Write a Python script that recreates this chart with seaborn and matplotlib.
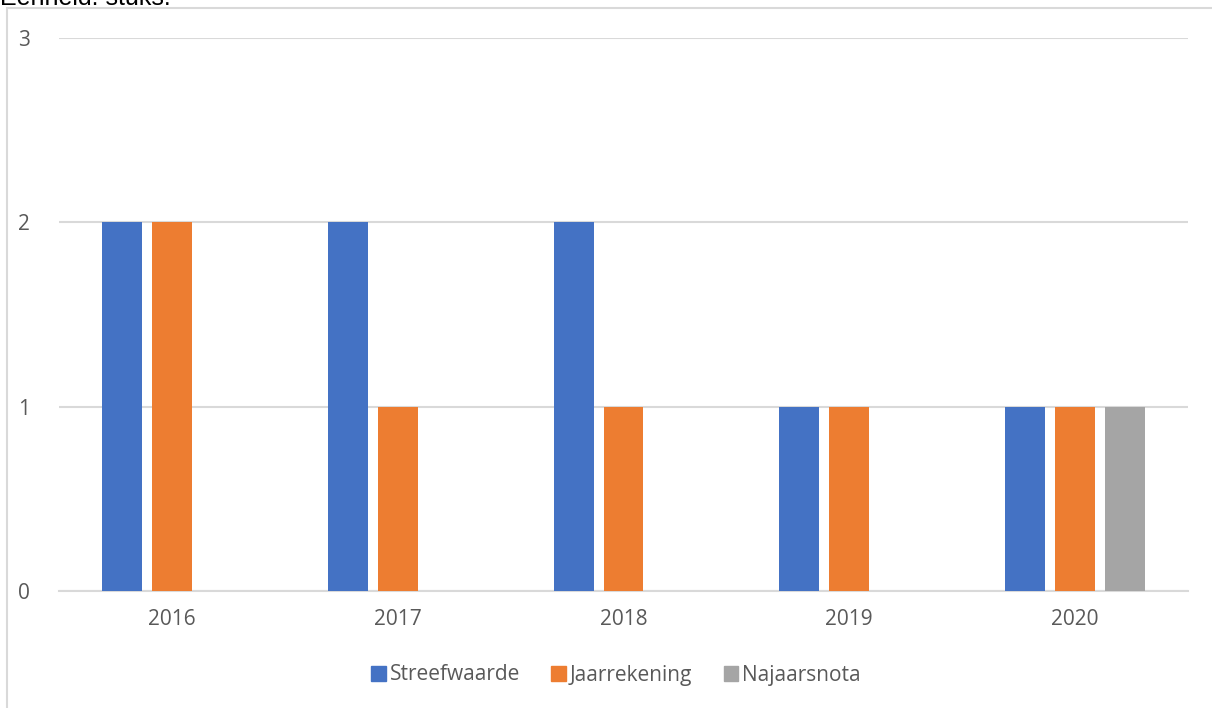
import pandas as pd
import matplotlib.pyplot as plt
import matplotlib.patches as mpatches
import seaborn as sns

sns.set_theme(style="white")
plt.rcParams['font.family'] = ['Open Sans', 'DejaVu Sans']

# Chart data
years = ['2016', '2017', '2018', '2019', '2020']
streefwaarde = [2, 2, 2, 1, 1]
jaarrekening = [2, 1, 1, 1, 1]
najaarsnota = [0, 0, 0, 0, 1]
series = ['Streefwaarde', 'Jaarrekening', 'Najaarsnota']
colors = ['#4472c4', '#ed7d31', '#a5a5a5']

df = pd.DataFrame({
    'jaar': years * 3,
    'reeks': [s for s in series for _ in years],
    'waarde': streefwaarde + jaarrekening + najaarsnota,
})

fig = plt.figure(figsize=(12.12, 7.08), dpi=100)
ax = fig.add_axes([59 / 1212, 1 - 591 / 708, (1188 - 59) / 1212, (591 - 38) / 708])

sns.barplot(data=df, x='jaar', y='waarde', hue='reeks', hue_order=series,
            palette=colors, width=0.664, gap=0.2, saturation=1, ax=ax,
            legend=False, zorder=3, linewidth=0)

ax.set_ylim(0, 3)
ax.set_yticks([0, 1, 2, 3])
ax.set_xlim(-0.5, 4.5)
ax.grid(axis='y', color='#d9d9d9', linewidth=1.5, zorder=0)
for side in ['top', 'right', 'left']:
    ax.spines[side].set_visible(False)
ax.spines['bottom'].set_color('#d9d9d9')
ax.spines['bottom'].set_linewidth(1.5)
ax.set_xlabel('')
ax.set_ylabel('')
ax.tick_params(axis='both', length=0, labelsize=15, labelcolor='#595959')
ax.tick_params(axis='x', pad=13)
ax.tick_params(axis='y', pad=21)

handles = [mpatches.Patch(color=c, label=s) for c, s in zip(colors, series)]
fig.legend(handles=handles, loc='center', bbox_to_anchor=(616 / 1212, 1 - 675 / 708),
           ncol=3, frameon=False, fontsize=15, labelcolor='#595959',
           handlelength=0.7, handleheight=0.7, handletextpad=0.2, columnspacing=1.5)

# chart frame
fig.patches.append(mpatches.Rectangle((7 / 1212, -0.1), 1.1, 1 - 8 / 708 + 0.1,
                                      transform=fig.transFigure, fill=False,
                                      edgecolor='#d9d9d9', linewidth=1.5))
fig.text(0.0, 1 - 5 / 708, 'Eenheid: stuks.', fontsize=18, family='Liberation Sans',
         color='black', va='baseline', ha='left')

fig.savefig('out.png', dpi=100)
